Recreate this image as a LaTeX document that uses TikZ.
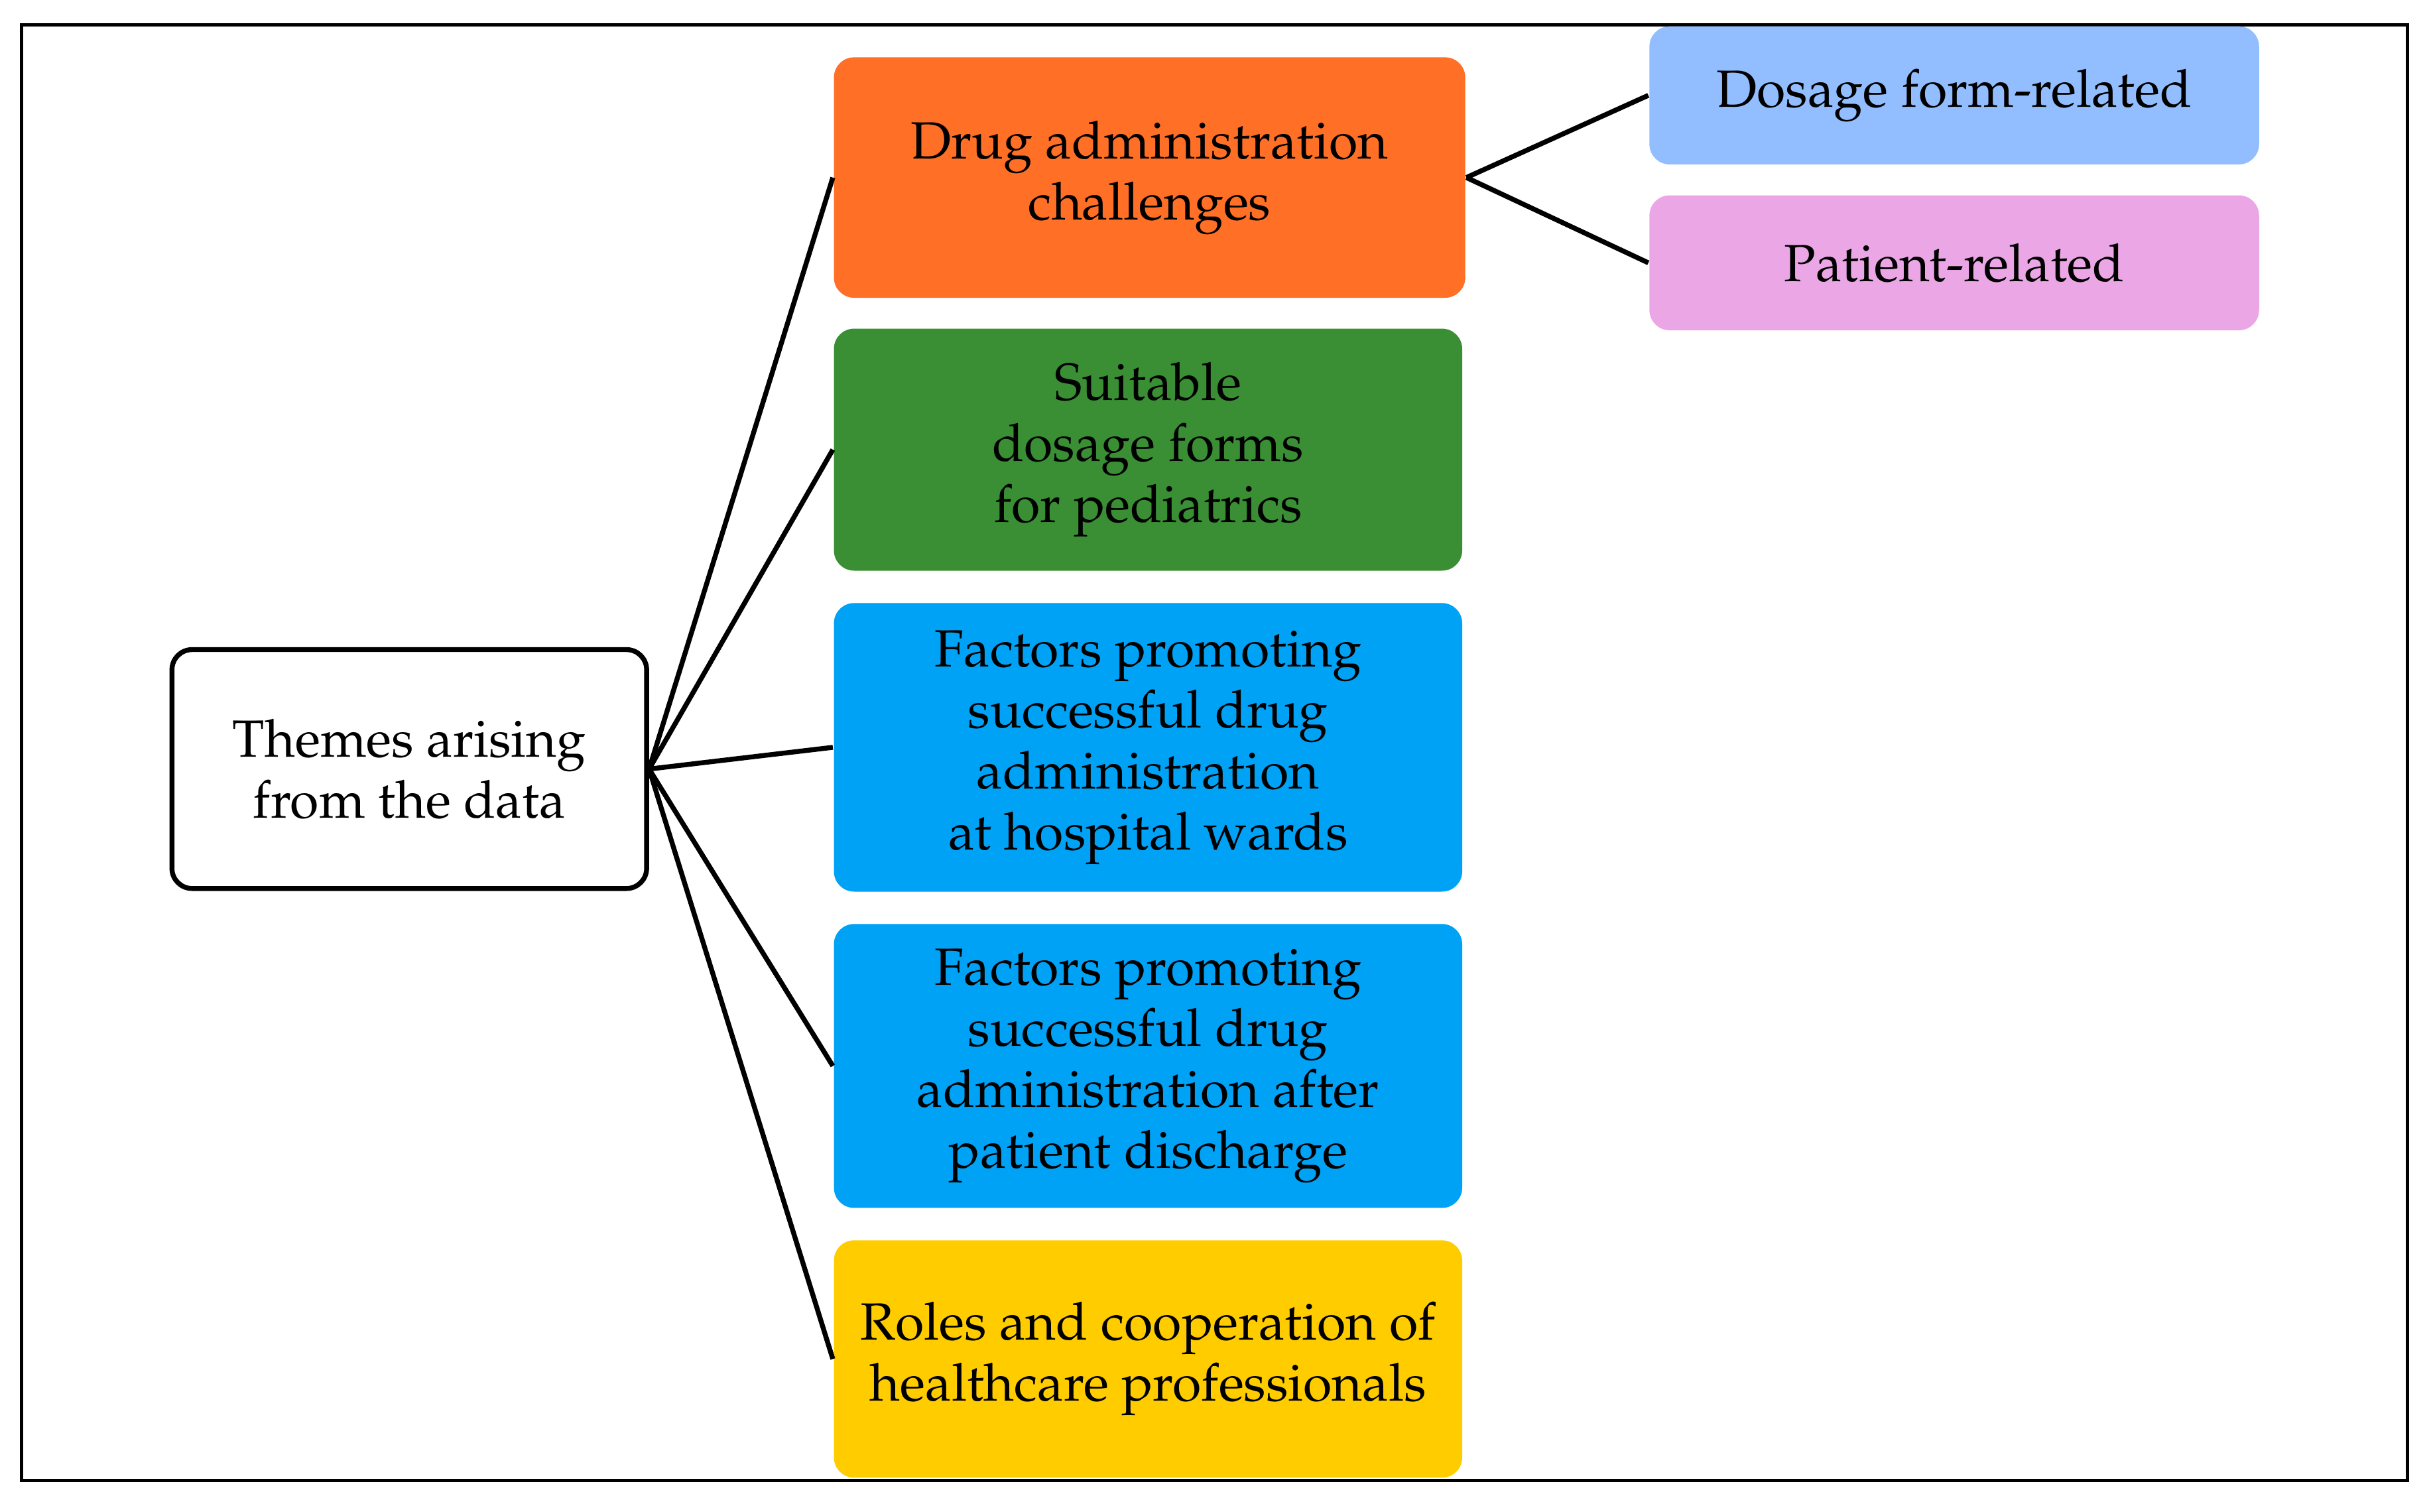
\documentclass[tikz,border=0pt]{standalone}
\usepackage[T1]{fontenc}
\usepackage{mathpazo}
\begin{document}
\begin{tikzpicture}[x=0.01cm,y=-0.01cm,
 box/.style={rounded corners=0.13cm,inner sep=0pt,align=center,font=\fontsize{9.6}{11.2}\selectfont},
 ln/.style={line width=0.9pt}]
\definecolor{cor}{HTML}{FF6F26}\definecolor{cgr}{HTML}{3A8F34}\definecolor{cbl}{HTML}{00A2F5}
\definecolor{cye}{HTML}{FFCC00}\definecolor{clb}{HTML}{92BDFE}\definecolor{cpk}{HTML}{EBA6E5}
\useasboundingbox (0,0) rectangle (1568,975);
\draw[line width=0.6pt] (14,16) rectangle (1553,955);
\node[box,draw,line width=0.9pt,fill=white,minimum width=3.06cm,minimum height=1.54cm] (root) at (264,496) {Themes arising\\from the data};
\node[box,fill=cor,minimum width=4.07cm,minimum height=1.55cm] (a) at (741.5,114.5) {Drug administration\\challenges};
\node[box,fill=cgr,minimum width=4.05cm,minimum height=1.56cm] (b) at (740.5,290) {Suitable\\dosage forms\\for pediatrics};
\node[box,fill=cbl,minimum width=4.05cm,minimum height=1.86cm] (c) at (740.5,482) {Factors promoting\\successful drug\\administration\\at hospital wards};
\node[box,fill=cbl,minimum width=4.05cm,minimum height=1.83cm] (d) at (740.5,687.5) {Factors promoting\\successful drug\\administration after\\patient discharge};
\node[box,fill=cye,minimum width=4.05cm,minimum height=1.53cm] (e) at (740.5,876.5) {Roles and cooperation of\\healthcare professionals};
\node[box,fill=clb,minimum width=3.93cm,minimum height=0.89cm] (f) at (1260.5,61.5) {Dosage form-related};
\node[box,fill=cpk,minimum width=3.93cm,minimum height=0.87cm] (g) at (1260.5,169.5) {Patient-related};
\foreach \t in {a,b,c,d,e} \draw[ln] (root.east) -- (\t.west);
\draw[ln] (a.east) -- (f.west);
\draw[ln] (a.east) -- (g.west);
\end{tikzpicture}
\end{document}
